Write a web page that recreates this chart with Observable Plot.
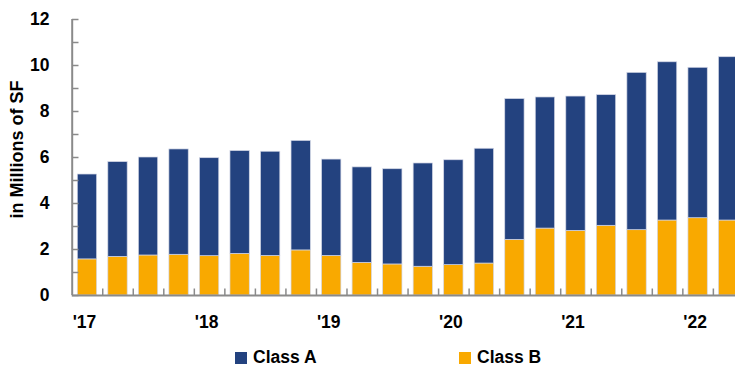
<!DOCTYPE html>
<html>
<head>
<meta charset="utf-8">
<script src="https://cdn.jsdelivr.net/npm/d3@7"></script>
<script src="https://cdn.jsdelivr.net/npm/@observablehq/plot@0.6"></script>
<style>
  html, body { margin: 0; padding: 0; background: #fff; overflow: hidden; }
  #chart { width: 735px; }
  .lg-swatches {
    margin: 7px 0 0 235px !important;
    min-height: 0 !important;
    font: bold 17.5px "Liberation Sans", Arial, sans-serif !important;
    color: #000 !important;
  }
  .lg-swatch { margin-right: 0 !important; }
  span.lg-swatch:first-of-type { width: 224px; }
  .lg-swatch > svg { margin-right: 6px !important; }
</style>
</head>
<body>
<div id="chart"></div>
<script>
// Quarterly space, in millions of square feet
const quarters = [
  "2017Q1", "2017Q2", "2017Q3", "2017Q4",
  "2018Q1", "2018Q2", "2018Q3", "2018Q4",
  "2019Q1", "2019Q2", "2019Q3", "2019Q4",
  "2020Q1", "2020Q2", "2020Q3", "2020Q4",
  "2021Q1", "2021Q2", "2021Q3", "2021Q4",
  "2022Q1", "2022Q2"
];
const classA = [
  3.69, 4.12, 4.26, 4.58, 4.26, 4.47, 4.53, 4.76, 4.19, 4.15, 4.14,
  4.49, 4.56, 4.99, 6.12, 5.70, 5.84, 5.68, 6.84, 6.88, 6.54, 7.10
];
const classB = [
  1.57, 1.68, 1.74, 1.77, 1.71, 1.81, 1.72, 1.96, 1.72, 1.42, 1.35,
  1.25, 1.32, 1.39, 2.42, 2.91, 2.81, 3.03, 2.84, 3.26, 3.36, 3.26
];
const yearLabels = ["'17", "'18", "'19", "'20", "'21", "'22"];
const yTicks = [0, 2, 4, 6, 8, 10, 12];
const yTitle = "in Millions of SF";
const series = ["Class A", "Class B"];
const colors = ["#23427F", "#F9A900"];

// Stack Class B at the bottom, Class A on top of it
const rows = quarters.flatMap((q, i) => [
  {i, quarter: q, cls: "Class B", y1: 0, y2: classB[i]},
  {i, quarter: q, cls: "Class A", y1: classB[i], y2: classB[i] + classA[i]}
]);
// First quarter of each year carries the year label
const yearStarts = quarters.map((q, i) => i).filter(i => quarters[i].endsWith("Q1"));

const font = '"Liberation Sans", Arial, sans-serif';
const axisColor = "#8a8a8a";

const chart = Plot.plot({
  width: 735,
  height: 340,
  marginTop: 19,
  marginBottom: 45,
  marginLeft: 72,
  marginRight: 0,
  style: {fontFamily: font, fontSize: "17.5px", fontWeight: "bold", color: "#000", background: "#fff"},
  x: {domain: [0, quarters.length], range: [71.7, 743.4], axis: null},
  y: {domain: [0, 12], axis: null},
  color: {domain: series, range: colors},
  marks: [
    Plot.rect(rows, {
      x1: "i", x2: d => d.i + 1, y1: "y1", y2: "y2", fill: "cls",
      insetLeft: 5.6, insetRight: 5.6,
      stroke: "#d3d7e6", strokeWidth: 0.7
    }),
    // y axis: minor ticks every 1, labels every 2
    Plot.axisY(d3.range(0, 13), {
      tickSize: -6.5, tickFormat: () => "", stroke: axisColor, strokeWidth: 1.5, label: null
    }),
    Plot.axisY(yTicks, {
      tickSize: 0, tickPadding: 23, fontSize: 17.5, label: null
    }),
    Plot.text([yTitle], {
      text: d => d, frameAnchor: "left", textAnchor: "middle", rotate: -90,
      dx: -55.5, dy: -8, fontSize: 18, fontWeight: "bold"
    }),
    // x axis: ticks between quarters, year labels under the first quarter
    Plot.axisX(d3.range(1, quarters.length), {
      tickSize: -6.5, tickFormat: () => "", stroke: axisColor, strokeWidth: 1.5, label: null
    }),
    Plot.axisX(yearStarts.map(i => i + 0.5), {
      tickSize: 0, tickPadding: 20, fontSize: 17.5, dx: -3,
      tickFormat: d => yearLabels[yearStarts.indexOf(d - 0.5)], label: null
    }),
    Plot.ruleX([0], {y1: 0, y2: 12, stroke: axisColor, strokeWidth: 2}),
    Plot.ruleY([0], {x1: 0, x2: quarters.length, stroke: axisColor, strokeWidth: 2})
  ]
});

const legend = Plot.legend({
  color: {domain: series, range: colors},
  legend: "swatches",
  swatchSize: 12,
  className: "lg"
});

const root = document.getElementById("chart");
root.append(chart, legend);
</script>
</body>
</html>
